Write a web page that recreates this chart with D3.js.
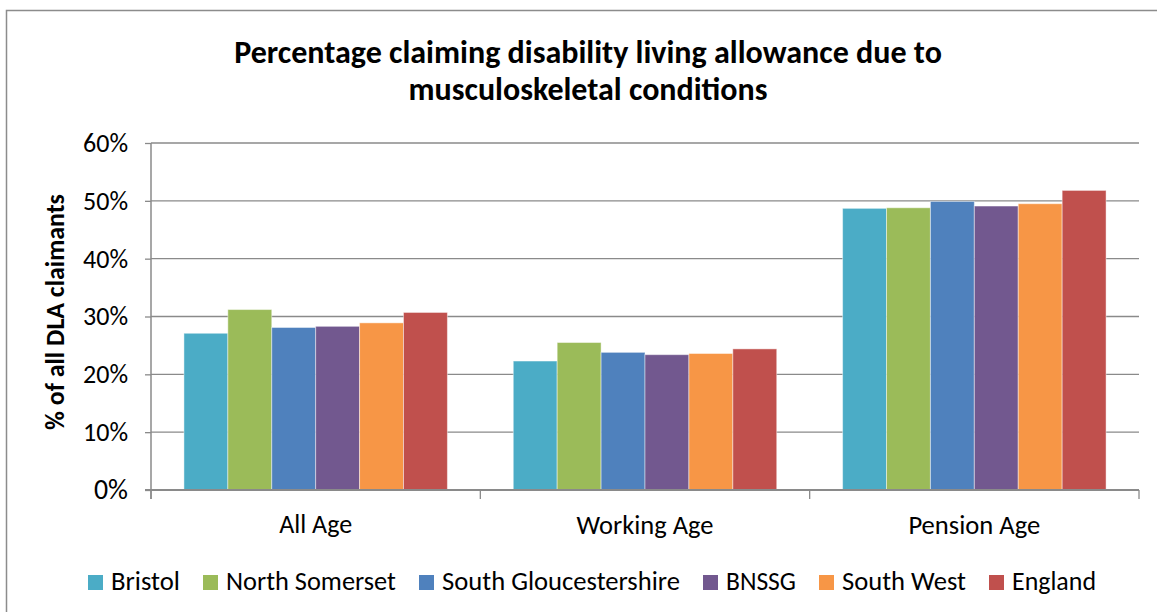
<!DOCTYPE html>
<html>
<head>
<meta charset="utf-8">
<script src="https://cdn.jsdelivr.net/npm/d3@7"></script>
<style>
  html, body { margin: 0; padding: 0; background: #fff; }
  svg { display: block; }
  text { font-family: Carlito, Calibri, Lato, "Open Sans", sans-serif; fill: #000; }
</style>
</head>
<body>
<svg id="chart" width="1157" height="612"></svg>
<script>
// ---- data ----
const categories = ["All Age", "Working Age", "Pension Age"];
const seriesNames = ["Bristol", "North Somerset", "South Gloucestershire", "BNSSG", "South West", "England"];
const seriesColors = ["#4BACC6", "#9BBB59", "#4F81BD", "#72588F", "#F79646", "#C0504D"];
const bristol = [27.1, 22.3, 48.7];
const northSomerset = [31.2, 25.5, 48.8];
const southGlos = [28.1, 23.8, 49.9];
const bnssg = [28.3, 23.4, 49.1];
const southWest = [28.9, 23.6, 49.5];
const england = [30.7, 24.4, 51.8];
const yTickValues = [0, 10, 20, 30, 40, 50, 60];
const titleLines = ["Percentage claiming disability living allowance due to", "musculoskeletal conditions"];
const yAxisLabel = "% of all DLA claimants";

const seriesValues = [bristol, northSomerset, southGlos, bnssg, southWest, england];

const svg = d3.select("#chart");

// frame
svg.append("rect")
  .attr("x", 6.5).attr("y", 10.5).attr("width", 1160).attr("height", 620)
  .attr("fill", "none").attr("stroke", "#8c8c8c").attr("stroke-width", 1.5);

// helper to fit font size to a target width
function fit(sel, targetW, baseSize) {
  sel.style("font-size", baseSize + "px");
  const w = sel.node().getComputedTextLength();
  sel.style("font-size", (baseSize * targetW / w).toFixed(2) + "px");
}

// scales
const x0 = d3.scaleBand().domain(categories).range([151, 1139]).paddingInner(0).paddingOuter(0);
const x1 = d3.scaleBand().domain(seriesNames).range([0, x0.bandwidth()]).paddingInner(0).paddingOuter(0.75);
const y = d3.scaleLinear().domain([0, 60]).range([490, 143]);

// gridlines
svg.append("g").selectAll("line").data(yTickValues.filter(v => v > 0)).join("line")
  .attr("x1", 151).attr("x2", 1139)
  .attr("y1", d => y(d)).attr("y2", d => y(d))
  .attr("stroke", "#8a8a8a").attr("stroke-width", 1.3);

// bars
const groups = svg.append("g").selectAll("g").data(categories).join("g")
  .attr("transform", d => `translate(${x0(d)},0)`);
groups.selectAll("rect")
  .data((c, ci) => seriesNames.map((s, si) => ({ s, si, v: seriesValues[si][ci] })))
  .join("rect")
  .attr("x", d => x1(d.s))
  .attr("width", x1.bandwidth())
  .attr("y", d => y(d.v))
  .attr("height", d => y(0) - y(d.v))
  .attr("fill", d => seriesColors[d.si])
  .attr("stroke", "rgba(255,255,255,0.45)")
  .attr("stroke-width", 1);

// y axis
const yAxis = d3.axisLeft(y).tickValues(yTickValues).tickFormat(d => d + "%").tickSize(6).tickPadding(17);
const gy = svg.append("g").attr("transform", "translate(151,0)").call(yAxis);
gy.select(".domain").attr("stroke", "#8a8a8a").attr("stroke-width", 1.5).attr("d", "M0,143V499");
gy.selectAll(".tick line").attr("stroke", "#8a8a8a").attr("stroke-width", 1.3);
gy.selectAll(".tick text").style("font-family", null).attr("fill", "#000").attr("font-size", null);
gy.selectAll(".tick text").each(function () { fit(d3.select(this), this.textContent.length === 3 ? 45 : 34, 20); });

// x axis
const xAxis = d3.axisBottom(x0).tickSize(0).tickPadding(25);
const gx = svg.append("g").attr("transform", "translate(0,490)").call(xAxis);
gx.select(".domain").attr("stroke", "#8a8a8a").attr("stroke-width", 2).attr("d", "M145,0H1139");
gx.selectAll(".tick text").attr("fill", "#000").attr("font-size", null).style("font-family", null).attr("dy", "0.71em");
const bounds = [151, ...categories.map(c => x0(c) + x0.bandwidth())];
gx.append("g").selectAll("line").data(bounds).join("line")
  .attr("x1", d => d).attr("x2", d => d).attr("y1", 0).attr("y2", 9)
  .attr("stroke", "#8a8a8a").attr("stroke-width", 1.3);
gx.selectAll(".tick text").each(function (d) {
  const target = { "All Age": 73, "Working Age": 137, "Pension Age": 132 }[d];
  fit(d3.select(this), target, 20);
});

// title
const t1 = svg.append("text").attr("x", 588).attr("y", 63).attr("text-anchor", "middle")
  .attr("font-weight", "bold").text(titleLines[0]);
fit(t1, 708, 26);
const t2 = svg.append("text").attr("x", 588).attr("y", 100).attr("text-anchor", "middle")
  .attr("font-weight", "bold").text(titleLines[1]);
fit(t2, 359, 26);

// y label
const yl = svg.append("text").attr("transform", "translate(64,312) rotate(-90)")
  .attr("text-anchor", "middle").attr("font-weight", "bold").text(yAxisLabel);
fit(yl, 236, 20);

// legend
const legend = svg.append("g");
const legendTextWidths = [69, 170, 238, 70, 124, 84];
const sq = 15, gapText = 8, gapItem = 23;
let lx = 88;
seriesNames.forEach((s, i) => {
  legend.append("rect").attr("x", lx).attr("y", 575).attr("width", sq).attr("height", sq)
    .attr("fill", seriesColors[i]);
  const tx = legend.append("text").attr("x", lx + sq + gapText).attr("y", 590).text(s);
  fit(tx, legendTextWidths[i], 20);
  lx += sq + gapText + legendTextWidths[i] + gapItem;
});
</script>
</body>
</html>
